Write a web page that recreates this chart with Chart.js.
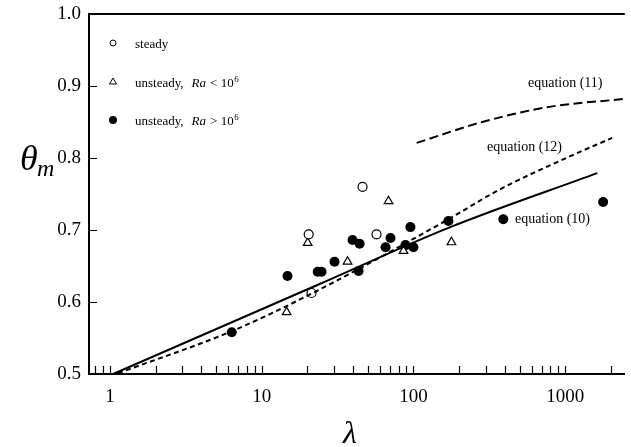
<!DOCTYPE html>
<html>
<head>
<meta charset="utf-8">
<script src="https://cdn.jsdelivr.net/npm/chart.js@4.4.1/dist/chart.umd.min.js"></script>
<style>
    html, body { margin: 0; padding: 0; background: #fff; }
    #wrap { width: 631px; height: 447px; position: relative; }
</style>
</head>
<body>
<div id="wrap"><canvas id="c"></canvas></div>
<script>
// data
const steadyLambda = [20.4, 46.2, 57.1, 21.3];
const steadyTheta = [0.694, 0.760, 0.694, 0.6125];

const lowRaLambda = [14.6, 20.1, 36.8, 68.5, 86, 178];
const lowRaTheta = [0.586, 0.682, 0.656, 0.740, 0.671, 0.683];

const highRaLambda = [6.35, 14.8, 23.4, 24.8, 30.2, 39.7, 44.2, 43.5, 65.5, 70.6, 95.5, 88.6, 100, 170, 391, 1778];
const highRaTheta = [0.558, 0.636, 0.642, 0.642, 0.656, 0.686, 0.681, 0.643, 0.676, 0.689, 0.704, 0.679, 0.676, 0.7125, 0.715, 0.739];

const eq10Lambda = [1.05, 24.1, 170, 1626];
const eq10Theta = [0.5, 0.625, 0.703, 0.779];

const eq12Lambda = [1.13, 6.44, 21.7, 167, 368, 1016, 2038];
const eq12Theta = [0.501, 0.560, 0.6125, 0.714, 0.756, 0.800, 0.828];

const eq11Lambda = [105, 284, 785, 2440];
const eq11Theta = [0.821, 0.850, 0.871, 0.882];

const xLabelTicks = [1, 10, 100, 1000];
const xTickMarks = [0.8, 0.9, 1, 2, 3, 4, 5, 6, 7, 8, 9, 10, 20, 30, 40, 50, 60, 70, 80, 90, 100,
    200, 300, 400, 500, 600, 700, 800, 900, 1000, 2000];
const yTickMarks = [0.6, 0.7, 0.8, 0.9];

function pts(xs, ys) {
    return xs.map((x, i) => ({ x: x, y: ys[i] }));
}

const serif = '"Liberation Serif", "DejaVu Serif", serif';

const extras = {
    id: 'extras',
    afterDraw(chart) {
        const ctx = chart.ctx;
        const { left, right, top, bottom } = chart.chartArea;
        const sx = chart.scales.x;
        const sy = chart.scales.y;
        ctx.save();
        ctx.strokeStyle = '#000';
        ctx.fillStyle = '#000';

        // top frame line
        ctx.lineWidth = 2;
        ctx.beginPath();
        ctx.moveTo(left, top);
        ctx.lineTo(right, top);
        ctx.stroke();

        // inward tick marks
        ctx.lineWidth = 1.2;
        ctx.beginPath();
        xTickMarks.forEach((v) => {
            const px = Math.round(sx.getPixelForValue(v)) + 0.5;
            if (px < left || px > right) return;
            ctx.moveTo(px, bottom);
            ctx.lineTo(px, bottom - 8);
        });
        yTickMarks.forEach((v) => {
            const py = Math.round(sy.getPixelForValue(v)) + 0.5;
            ctx.moveTo(left, py);
            ctx.lineTo(left + 8, py);
        });
        ctx.stroke();

        // legend
        ctx.lineWidth = 1;
        ctx.textBaseline = 'alphabetic';
        const lx = left + 24;
        const tx = left + 46;
        ctx.beginPath();
        ctx.arc(lx, top + 29, 3, 0, Math.PI * 2);
        ctx.stroke();
        ctx.beginPath();
        ctx.moveTo(lx, top + 64);
        ctx.lineTo(lx + 3.5, top + 70);
        ctx.lineTo(lx - 3.5, top + 70);
        ctx.closePath();
        ctx.stroke();
        ctx.beginPath();
        ctx.arc(lx, top + 106, 4, 0, Math.PI * 2);
        ctx.fill();

        function raLine(y, sign) {
            let x = tx;
            ctx.font = '13px ' + serif;
            ctx.fillText('unsteady,', x, y);
            x += ctx.measureText('unsteady,').width + 8;
            ctx.font = 'italic 13px ' + serif;
            ctx.fillText('Ra', x, y);
            x += ctx.measureText('Ra').width + 4;
            ctx.font = '13px ' + serif;
            ctx.fillText(sign + ' 10', x, y);
            x += ctx.measureText(sign + ' 10').width;
            ctx.font = '9px ' + serif;
            ctx.fillText('6', x + 0.5, y - 5);
        }
        ctx.font = '13px ' + serif;
        ctx.fillText('steady', tx, top + 34);
        raLine(top + 73, '<');
        raLine(top + 111, '>');

        // equation labels
        ctx.font = '14px ' + serif;
        ctx.textBaseline = 'middle';
        ctx.fillText('equation (11)', 528, 83);
        ctx.fillText('equation (12)', 487, 147);
        ctx.fillText('equation (10)', 515, 219);

        // axis titles
        ctx.textBaseline = 'alphabetic';
        ctx.font = 'italic 36px ' + serif;
        ctx.fillText('\u03B8', 20, 170);
        ctx.font = 'italic 24px ' + serif;
        ctx.fillText('m', 37, 176);
        ctx.font = 'italic 32px ' + serif;
        ctx.textAlign = 'center';
        ctx.fillText('\u03BB', 350, 443);
        ctx.restore();
    }
};

new Chart(document.getElementById('c'), {
    type: 'scatter',
    data: {
        datasets: [
            {
                label: 'equation (10)',
                data: pts(eq10Lambda, eq10Theta),
                showLine: true,
                borderColor: '#000',
                borderWidth: 2,
                pointRadius: 0,
                cubicInterpolationMode: 'monotone'
            },
            {
                label: 'equation (12)',
                data: pts(eq12Lambda, eq12Theta),
                showLine: true,
                borderColor: '#000',
                borderWidth: 2,
                borderDash: [5, 3.5],
                pointRadius: 0,
                cubicInterpolationMode: 'monotone'
            },
            {
                label: 'equation (11)',
                data: pts(eq11Lambda, eq11Theta),
                showLine: true,
                borderColor: '#000',
                borderWidth: 2,
                borderDash: [9, 4.5],
                pointRadius: 0,
                cubicInterpolationMode: 'monotone'
            },
            {
                label: 'steady',
                data: pts(steadyLambda, steadyTheta),
                pointStyle: 'circle',
                pointRadius: 4.5,
                backgroundColor: '#fff',
                borderColor: '#000',
                borderWidth: 1.2
            },
            {
                label: 'unsteady, Ra < 10^6',
                data: pts(lowRaLambda, lowRaTheta),
                pointStyle: 'triangle',
                pointRadius: 5,
                backgroundColor: '#fff',
                borderColor: '#000',
                borderWidth: 1.2
            },
            {
                label: 'unsteady, Ra > 10^6',
                data: pts(highRaLambda, highRaTheta),
                pointStyle: 'circle',
                pointRadius: 5,
                backgroundColor: '#000',
                borderColor: '#000',
                borderWidth: 0
            }
        ]
    },
    options: {
        responsive: true,
        maintainAspectRatio: false,
        animation: false,
        layout: { padding: { top: 14, right: 1, left: 0, bottom: 0 } },
        plugins: {
            legend: { display: false },
            tooltip: { enabled: false }
        },
        scales: {
            x: {
                type: 'logarithmic',
                bounds: 'data',
                min: 0.728,
                max: 2470,
                afterBuildTicks: (scale) => {
                    scale.ticks = xLabelTicks.map((v) => ({ value: v }));
                },
                afterFit: (scale) => {
                    scale.height = 73;
                    scale.paddingLeft = 0;
                    scale.paddingRight = 0;
                },
                grid: { display: false, drawTicks: false },
                border: { display: true, color: '#000', width: 2 },
                ticks: {
                    color: '#000',
                    padding: 12,
                    maxRotation: 0,
                    autoSkip: false,
                    font: { family: serif, size: 19 },
                    callback: (v) => String(v)
                }
            },
            y: {
                min: 0.5,
                max: 1.0,
                afterFit: (scale) => {
                    scale.width = 89;
                    scale.paddingTop = 0;
                    scale.paddingBottom = 0;
                },
                grid: { display: false, drawTicks: false },
                border: { display: true, color: '#000', width: 2 },
                ticks: {
                    stepSize: 0.1,
                    color: '#000',
                    padding: 8,
                    font: { family: serif, size: 19 },
                    callback: (v) => v.toFixed(1)
                }
            }
        }
    },
    plugins: [extras]
});
</script>
</body>
</html>
